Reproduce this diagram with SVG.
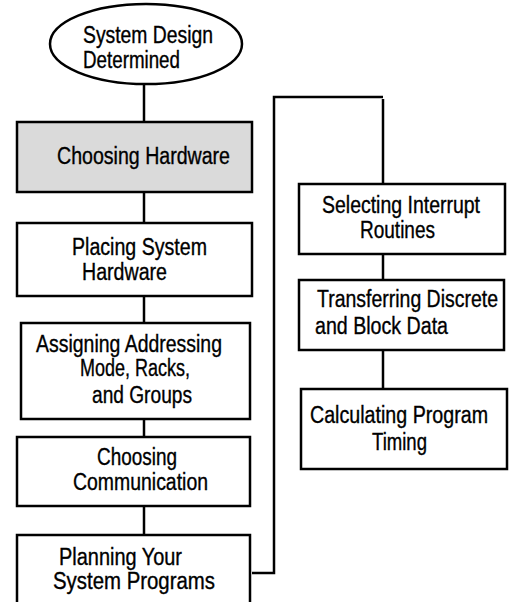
<svg xmlns="http://www.w3.org/2000/svg" width="510" height="602" viewBox="0 0 510 602">
<style>
.n{fill:#fff;stroke:#000;stroke-width:2.5}
.g{fill:#dadada}
.t{font-family:"Liberation Sans Narrow","Liberation Sans",Arial,sans-serif;font-size:23px;fill:#000;stroke:#000;stroke-width:0.35}
.c{fill:none;stroke:#000;stroke-width:2.5}
</style>
<rect width="510" height="602" fill="#fff"/>
<g id="connectors">
<line class="c" x1="144" y1="84" x2="144" y2="122"/>
<line class="c" x1="144" y1="192" x2="144" y2="223"/>
<line class="c" x1="144" y1="296" x2="144" y2="323"/>
<line class="c" x1="144" y1="419" x2="144" y2="437"/>
<line class="c" x1="144" y1="506" x2="144" y2="535"/>
<polyline class="c" points="252,573 274,573 274,97 383,97"/>
<line class="c" x1="383" y1="99" x2="383" y2="184"/>
<line class="c" x1="383" y1="254" x2="383" y2="280"/>
<line class="c" x1="383" y1="350" x2="383" y2="389"/>
</g>
<g id="start">
<ellipse class="n" cx="146" cy="44" rx="96" ry="40"/>
<text class="t" x="83" y="43" textLength="130" lengthAdjust="spacingAndGlyphs">System Design</text>
<text class="t" x="83" y="68" textLength="97" lengthAdjust="spacingAndGlyphs">Determined</text>
</g>
<g id="choosing-hardware">
<rect class="n g" x="17" y="122" width="235" height="70"/>
<text class="t" x="57" y="164" textLength="173" lengthAdjust="spacingAndGlyphs">Choosing Hardware</text>
</g>
<g id="placing">
<rect class="n" x="17" y="223" width="235" height="73"/>
<text class="t" x="72" y="255" textLength="135" lengthAdjust="spacingAndGlyphs">Placing System</text>
<text class="t" x="82" y="280" textLength="85" lengthAdjust="spacingAndGlyphs">Hardware</text>
</g>
<g id="assigning">
<rect class="n" x="21" y="323" width="229" height="96"/>
<text class="t" x="36" y="352" textLength="186" lengthAdjust="spacingAndGlyphs">Assigning Addressing</text>
<text class="t" x="80" y="376" textLength="110" lengthAdjust="spacingAndGlyphs">Mode, Racks,</text>
<text class="t" x="92" y="403" textLength="100" lengthAdjust="spacingAndGlyphs">and Groups</text>
</g>
<g id="communication">
<rect class="n" x="17" y="437" width="233" height="69"/>
<text class="t" x="97" y="465" textLength="80" lengthAdjust="spacingAndGlyphs">Choosing</text>
<text class="t" x="73" y="490" textLength="135" lengthAdjust="spacingAndGlyphs">Communication</text>
</g>
<g id="planning">
<rect class="n" x="17" y="535" width="233" height="90"/>
<text class="t" x="59" y="565" textLength="123" lengthAdjust="spacingAndGlyphs">Planning Your</text>
<text class="t" x="53" y="589" textLength="162" lengthAdjust="spacingAndGlyphs">System Programs</text>
</g>
<g id="interrupt">
<rect class="n" x="299" y="184" width="206" height="70"/>
<text class="t" x="322" y="213" textLength="158" lengthAdjust="spacingAndGlyphs">Selecting Interrupt</text>
<text class="t" x="360" y="238" textLength="75" lengthAdjust="spacingAndGlyphs">Routines</text>
</g>
<g id="transferring">
<rect class="n" x="299" y="280" width="205" height="70"/>
<text class="t" x="317" y="307" textLength="181" lengthAdjust="spacingAndGlyphs">Transferring Discrete</text>
<text class="t" x="315" y="334" textLength="133" lengthAdjust="spacingAndGlyphs">and Block Data</text>
</g>
<g id="timing">
<rect class="n" x="301" y="389" width="206" height="80"/>
<text class="t" x="310" y="423" textLength="178" lengthAdjust="spacingAndGlyphs">Calculating Program</text>
<text class="t" x="372" y="450" textLength="55" lengthAdjust="spacingAndGlyphs">Timing</text>
</g>
</svg>
